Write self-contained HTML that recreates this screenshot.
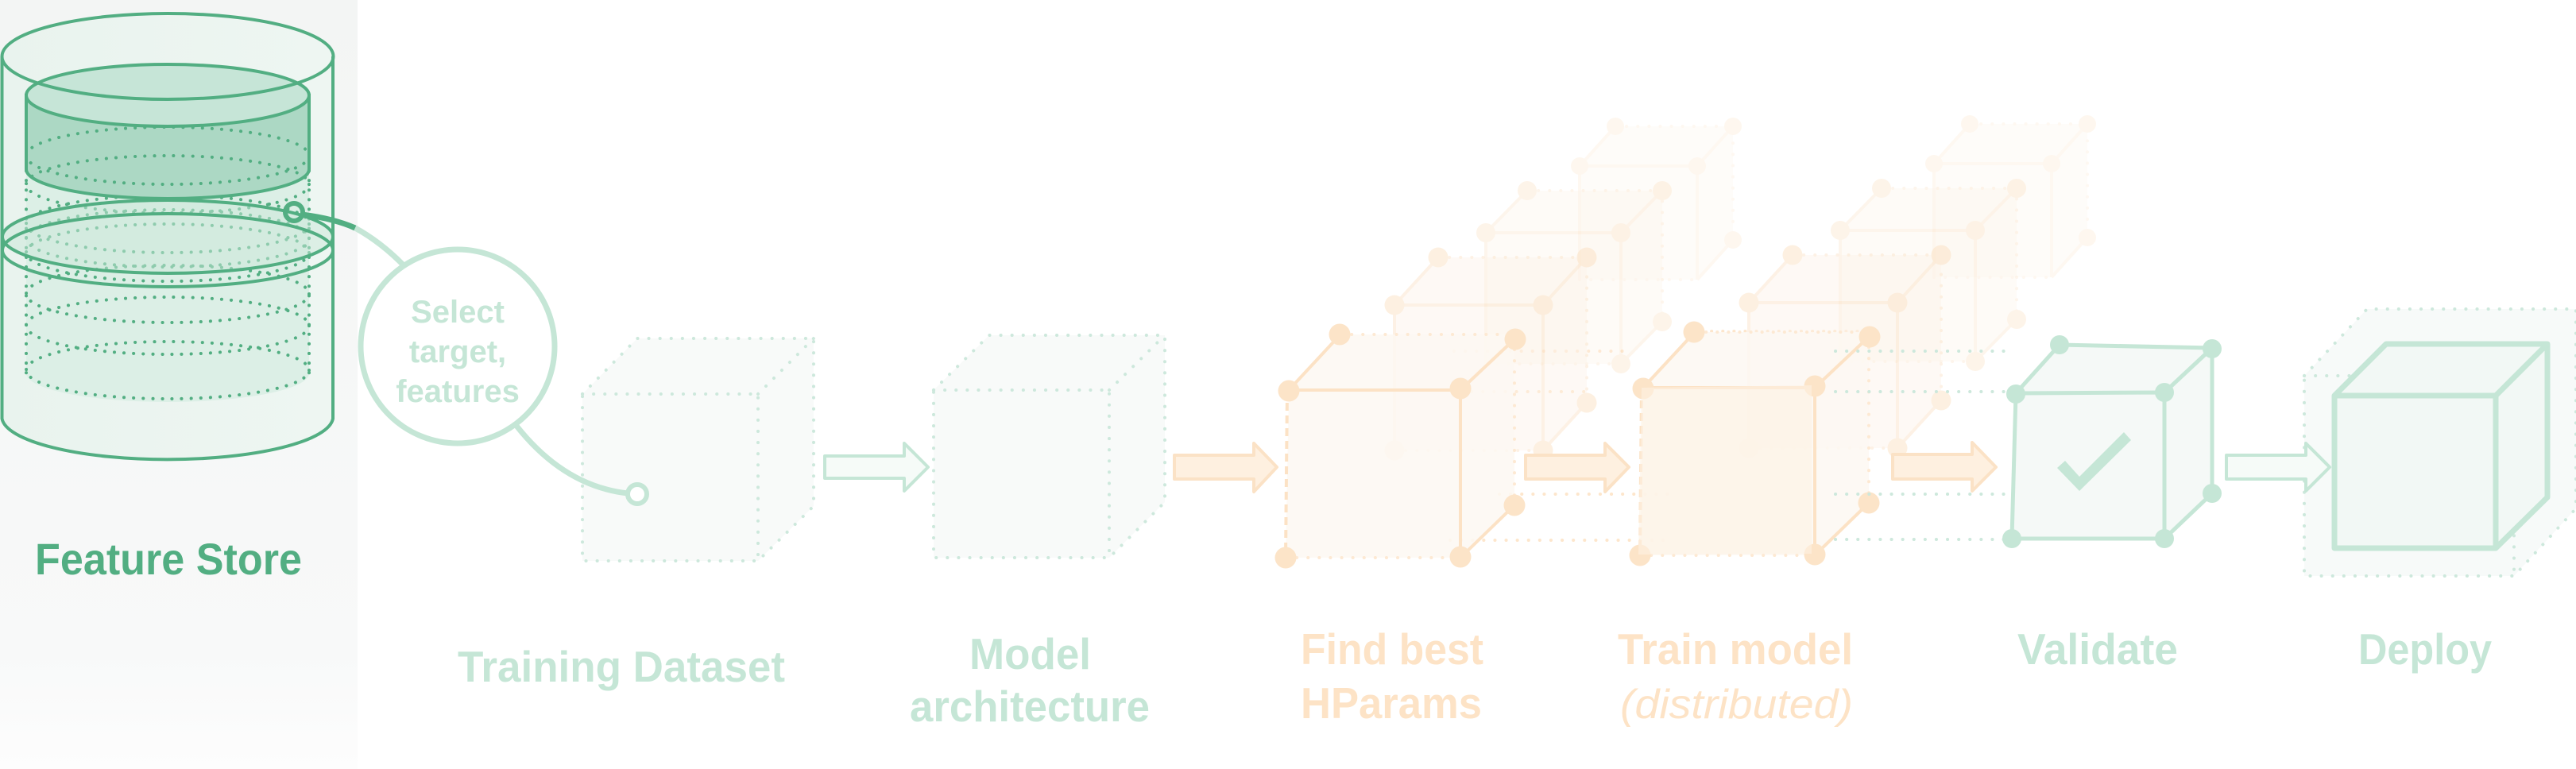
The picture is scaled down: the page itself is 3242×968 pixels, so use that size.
<!DOCTYPE html>
<html><head><meta charset="utf-8"><style>
html,body{margin:0;padding:0;background:#fff;}
svg{display:block;}
text{font-family:"Liberation Sans",sans-serif;font-weight:bold;}
</style></head><body>
<svg width="3242" height="968" viewBox="0 0 3242 968" xmlns="http://www.w3.org/2000/svg">
<defs>
<linearGradient id="lp" x1="0" y1="0" x2="0" y2="1"><stop offset="0" stop-color="#f3f5f4"/><stop offset="0.85" stop-color="#f8f9f9"/><stop offset="1" stop-color="#fdfdfd"/></linearGradient>
<linearGradient id="cyl" x1="0" y1="0" x2="1" y2="0"><stop offset="0" stop-color="#e9f3ee"/><stop offset="1" stop-color="#eef6f2"/></linearGradient>
</defs>
<rect x="0" y="0" width="450" height="968" fill="url(#lp)"/>

<!-- Cylinder -->
<path d="M2.5,71 L2.5,527 A208.5,54 0 0 0 419,527 L419,71 A208.5,54 0 0 0 2.5,71 Z" fill="url(#cyl)"/>
<path d="M2.5,71 L2.5,527 A208.5,54 0 0 0 419,527 L419,71" fill="none" stroke="#52ae82" stroke-width="4"/>
<path d="M33,213 L33,470 A178,36 0 0 0 389,470 L389,213 Z" fill="#dcefe6"/>
<g fill="none" stroke="#52ae82" stroke-width="4" stroke-dasharray="0.1 12" stroke-linecap="round">
<line x1="33" y1="215" x2="33" y2="470"/><line x1="389" y1="215" x2="389" y2="470"/>
<ellipse cx="211" cy="282" rx="178" ry="36"/>
<ellipse cx="211" cy="300" rx="178" ry="36"/>
<ellipse cx="211" cy="318" rx="178" ry="36"/>
<ellipse cx="211" cy="370" rx="178" ry="36"/>
<ellipse cx="211" cy="410" rx="178" ry="36"/>
<ellipse cx="211" cy="466" rx="178" ry="36"/>
</g>
<g stroke="#52ae82" stroke-width="4">
<path d="M33,120 L33,213 A178,37 0 0 0 389,213 L389,120 Z" fill="#acd8c4"/>
<ellipse cx="211" cy="120" rx="178" ry="39" fill="#c6e5d7"/>
</g>
<g fill="none" stroke="#52ae82" stroke-width="4" stroke-dasharray="0.1 12" stroke-linecap="round">
<ellipse cx="211" cy="196" rx="178" ry="36"/>
<ellipse cx="211" cy="232" rx="178" ry="36"/>
</g>
<g stroke="#52ae82" stroke-width="4">
<ellipse cx="211" cy="298" rx="208" ry="46" fill="#c9e7d8" fill-opacity="0.5"/>
<ellipse cx="211" cy="315" rx="208" ry="46" fill="none"/>
<ellipse cx="211" cy="71" rx="208.5" ry="54" fill="none"/>
</g>

<!-- Training dataset cube -->
<g stroke="#cde8dc" stroke-width="4" stroke-dasharray="0.1 14" fill="none" stroke-linecap="round">
<polygon points="733,496 802,426 1024,426 1024,637 954,706 733,706" fill="#f8faf9"/>
<polyline points="733,496 954,496 954,706"/><line x1="954" y1="496" x2="1024" y2="426"/>
</g>

<!-- connector -->
<path d="M380,270 Q420,275 447,287" fill="none" stroke="#52ae82" stroke-width="7"/>
<path d="M447,287 Q480,305 510,336" fill="none" stroke="#c5e6d6" stroke-width="7"/>
<circle cx="370" cy="267" r="11" fill="none" stroke="#52ae82" stroke-width="6"/>
<circle cx="576" cy="436" r="122" fill="#fff" stroke="#c5e6d6" stroke-width="7"/>
<path d="M650,536 Q710,612 790,621" fill="none" stroke="#c5e6d6" stroke-width="7"/>
<circle cx="802" cy="622" r="12" fill="#fff" stroke="#c5e6d6" stroke-width="6"/>
<g fill="#c5e6d6" font-size="40" text-anchor="middle">
<text x="576" y="406">Select</text>
<text x="576" y="456">target,</text>
<text x="576" y="506">features</text>
</g>
<text x="44" y="723" font-size="56" fill="#52ae82" textLength="336" lengthAdjust="spacingAndGlyphs">Feature Store</text>
<text x="576" y="858" font-size="55" fill="#c5e6d6" textLength="412" lengthAdjust="spacingAndGlyphs">Training Dataset</text>

<!-- Arrow 1 -->
<polygon points="1038,574 1138,574 1138,558 1168,588 1138,618 1138,602 1038,602" fill="#f6fbf8" stroke="#c5e6d6" stroke-width="4" stroke-linejoin="round"/>

<!-- Model cube -->
<g stroke="#cde8dc" stroke-width="4" stroke-dasharray="0.1 14" fill="none" stroke-linecap="round">
<polygon points="1175,491 1245,422 1466,422 1466,632 1396,702 1175,702" fill="#f8faf9"/>
<polyline points="1175,491 1396,491 1396,702"/><line x1="1396" y1="491" x2="1466" y2="422"/>
</g>
<text x="1220" y="842" font-size="55" fill="#c5e6d6" textLength="153" lengthAdjust="spacingAndGlyphs">Model</text>
<text x="1145" y="908" font-size="55" fill="#c5e6d6" textLength="302" lengthAdjust="spacingAndGlyphs">architecture</text>

<!-- Arrow 2 -->
<polygon points="1478,573 1578,573 1578,558 1607,588 1578,619 1578,603 1478,603" fill="#fef0e0" stroke="#fbe2c6" stroke-width="4" stroke-linejoin="round"/>

<!-- orange dotted guide lines -->
<g stroke="#fde6cc" stroke-width="4" stroke-dasharray="0.1 14" stroke-linecap="round">
<line x1="1830" y1="442" x2="2050" y2="442"/><line x1="1838" y1="493" x2="2000" y2="493"/>
<line x1="1887" y1="622" x2="2100" y2="622"/><line x1="1825" y1="680" x2="2095" y2="680"/>
<line x1="2140" y1="417" x2="2340" y2="417"/>
</g>

<!-- HParams cubes -->
<g id="hp">
<g opacity="0.22">
<polygon points="1988,209 2033,159 2181,159 2181,302 2136,352 1988,352" fill="#fdf3e8"/>
<g stroke="#fbe0c2" stroke-width="4" fill="none"><polyline points="1988,352 1988,209 2136,209 2136,352"/><line x1="1988" y1="209" x2="2033" y2="159"/><line x1="2136" y1="209" x2="2181" y2="159"/><line x1="2136" y1="352" x2="2181" y2="302"/></g>
<g stroke="#fbe0c2" stroke-width="4" stroke-dasharray="0.1 14" stroke-linecap="round" fill="none"><polyline points="2033,159 2181,159 2181,302"/><line x1="1988" y1="352" x2="2136" y2="352"/></g>
<g fill="#fbdcb8"><circle cx="1988" cy="209" r="11"/><circle cx="2136" cy="209" r="11"/><circle cx="2033" cy="159" r="11"/><circle cx="2181" cy="159" r="11"/><circle cx="2181" cy="302" r="11"/></g>
</g>
<g opacity="0.3">
<polygon points="1870,293 1922,240 2092,240 2092,405 2040,458 1870,458" fill="#fdf3e8"/>
<g stroke="#fbe0c2" stroke-width="4" fill="none"><polyline points="1870,458 1870,293 2040,293 2040,458"/><line x1="1870" y1="293" x2="1922" y2="240"/><line x1="2040" y1="293" x2="2092" y2="240"/><line x1="2040" y1="458" x2="2092" y2="405"/></g>
<g stroke="#fbe0c2" stroke-width="4" stroke-dasharray="0.1 14" stroke-linecap="round" fill="none"><polyline points="1922,240 2092,240 2092,405"/><line x1="1870" y1="458" x2="2040" y2="458"/></g>
<g fill="#fbdcb8"><circle cx="1870" cy="293" r="12"/><circle cx="2040" cy="293" r="12"/><circle cx="1922" cy="240" r="12"/><circle cx="2092" cy="240" r="12"/><circle cx="2092" cy="405" r="12"/><circle cx="2040" cy="458" r="12"/></g>
</g>
<g opacity="0.42">
<polygon points="1755,384 1810,324 1997,324 1997,507 1942,567 1755,567" fill="#fdf3e8"/>
<g stroke="#fbe0c2" stroke-width="4" fill="none"><polyline points="1755,567 1755,384 1942,384 1942,567"/><line x1="1755" y1="384" x2="1810" y2="324"/><line x1="1942" y1="384" x2="1997" y2="324"/><line x1="1942" y1="567" x2="1997" y2="507"/></g>
<g stroke="#fbe0c2" stroke-width="4" stroke-dasharray="0.1 14" stroke-linecap="round" fill="none"><polyline points="1810,324 1997,324 1997,507"/><line x1="1755" y1="567" x2="1942" y2="567"/></g>
<g fill="#fbdcb8"><circle cx="1755" cy="384" r="12.5"/><circle cx="1942" cy="384" r="12.5"/><circle cx="1810" cy="324" r="12.5"/><circle cx="1997" cy="324" r="12.5"/><circle cx="1997" cy="507" r="12.5"/><circle cx="1755" cy="567" r="12.5"/><circle cx="1942" cy="567" r="12.5"/></g>
</g>
<g>
<polygon points="1622,491 1687,421 1906,421 1906,636 1838,702 1618,702" fill="#fdf8f2" fill-opacity="0.85"/>
<g stroke="#fce2c5" stroke-width="4" fill="none"><polyline points="1622,491 1838,491 1838,702"/><line x1="1622" y1="491" x2="1687" y2="421"/><line x1="1838" y1="491" x2="1906" y2="427"/><line x1="1838" y1="702" x2="1906" y2="636"/></g>
<line x1="1620" y1="491" x2="1618" y2="702" stroke="#fce2c5" stroke-width="4" stroke-dasharray="10 6"/>
<g stroke="#fde9d3" stroke-width="4" stroke-dasharray="0.1 14" stroke-linecap="round" fill="none"><polyline points="1687,421 1906,421"/><line x1="1906" y1="440" x2="1906" y2="625"/><line x1="1618" y1="702" x2="1838" y2="702"/></g>
<g fill="#fce4c8"><circle cx="1622" cy="492" r="13.5"/><circle cx="1838" cy="489" r="13.5"/><circle cx="1618" cy="702" r="13.5"/><circle cx="1838" cy="701" r="13.5"/><circle cx="1686" cy="421" r="13.5"/><circle cx="1907" cy="427" r="13.5"/><circle cx="1906" cy="636" r="13.5"/></g>
</g>
</g>
<use href="#hp" transform="translate(446,-3)"/>
<polygon points="2066,488 2280,485 2280,697 2062,698" fill="#fdf1e3" opacity="0.6"/>

<!-- Arrow 3 -->
<polygon points="1920,573 2020,573 2020,558 2050,588 2020,619 2020,603 1920,603" fill="#fef0e0" stroke="#fbe2c6" stroke-width="4" stroke-linejoin="round"/>
<!-- Arrow 4 -->
<polygon points="2382,572 2482,572 2482,557 2512,588 2482,618 2482,603 2382,603" fill="#fef0e0" stroke="#fbe2c6" stroke-width="4" stroke-linejoin="round"/>

<text x="1637" y="836" font-size="55" fill="#fde3c6" textLength="230" lengthAdjust="spacingAndGlyphs">Find best</text>
<text x="1637" y="904" font-size="55" fill="#fde3c6" textLength="228" lengthAdjust="spacingAndGlyphs">HParams</text>
<text x="2036" y="836" font-size="55" fill="#fde3c6" textLength="296" lengthAdjust="spacingAndGlyphs">Train model</text>
<text x="2039" y="904" font-size="52" fill="#fde3c6" font-style="italic" style="font-weight:normal" textLength="293" lengthAdjust="spacingAndGlyphs">(distributed)</text>

<!-- teal dotted guide lines -->
<g stroke="#cde8dc" stroke-width="4" stroke-dasharray="0.1 14" stroke-linecap="round">
<line x1="2310" y1="442" x2="2530" y2="442"/><line x1="2310" y1="493" x2="2530" y2="493"/>
<line x1="2310" y1="622" x2="2525" y2="622"/><line x1="2310" y1="679" x2="2525" y2="679"/>
</g>

<!-- Validate cube -->
<polygon points="2537,495 2592,434 2784,438 2784,621 2724,678 2532,678" fill="#f5f9f7"/>
<g stroke="#c5e6d6" stroke-width="5" fill="none">
<polyline points="2532,678 2537,495 2724,494 2724,678 2532,678"/>
<polyline points="2592,434 2784,438 2784,621"/>
<line x1="2537" y1="495" x2="2592" y2="434"/><line x1="2724" y1="494" x2="2784" y2="438"/><line x1="2724" y1="678" x2="2784" y2="621"/>
</g>
<g fill="#c5e6d6"><circle cx="2537" cy="496" r="12"/><circle cx="2724" cy="494" r="12"/><circle cx="2532" cy="678" r="12"/><circle cx="2724" cy="678" r="12"/><circle cx="2592" cy="434" r="12"/><circle cx="2784" cy="439" r="12"/><circle cx="2784" cy="621" r="12"/></g>
<polygon points="2589,589 2599,580 2617,600 2673,544 2682,554 2617,618" fill="#c5e6d6"/>
<text x="2539" y="836" font-size="55" fill="#c5e6d6" textLength="202" lengthAdjust="spacingAndGlyphs">Validate</text>

<!-- Deploy -->
<g stroke="#cde8dc" stroke-width="4" stroke-dasharray="0.1 14" fill="none" stroke-linecap="round">
<polygon points="2900,473 2979,389 3242,389 3242,640 3164,725 2900,725" fill="#f7faf9"/>
<polyline points="2900,473 3164,473 3164,725"/>
</g>
<!-- Arrow 5 -->
<polygon points="2802,573 2902,573 2902,558 2932,588 2902,618 2902,603 2802,603" fill="#f6fbf8" stroke="#c5e6d6" stroke-width="4" stroke-linejoin="round"/>
<g stroke="#c5e6d6" stroke-width="7" stroke-linejoin="round">
<polygon points="2938,498 3003,433 3206,433 3206,626 3141,690 2938,690" fill="#f2f8f5"/>
<polyline points="2938,498 3141,498 3141,690" fill="none"/><line x1="3141" y1="498" x2="3206" y2="433"/>
</g>
<text x="2968" y="836" font-size="55" fill="#c5e6d6" textLength="168" lengthAdjust="spacingAndGlyphs">Deploy</text>
</svg>
</body></html>
